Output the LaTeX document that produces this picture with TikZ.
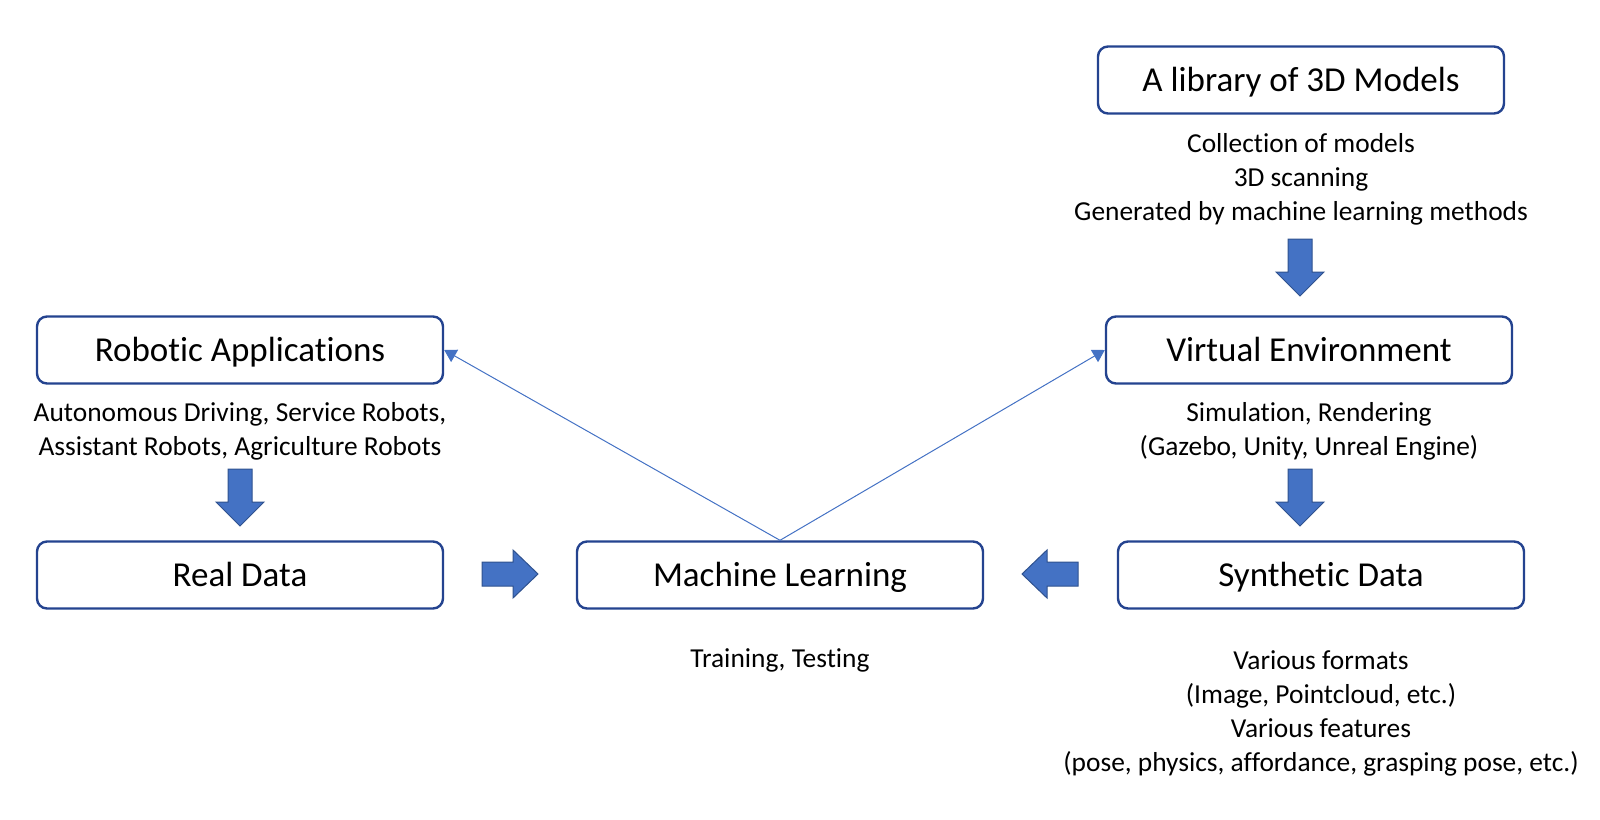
\documentclass[tikz,border=0pt]{standalone}
\usepackage{fontspec}
\setmainfont{Carlito}[Ligatures=NoCommon]
\usetikzlibrary{arrows.meta}
\definecolor{boxblue}{HTML}{24438F}
\definecolor{arrfill}{HTML}{4472C4}
\definecolor{arrline}{HTML}{2F528F}
\tikzset{
  box/.style={draw=boxblue, line width=1.2pt, rounded corners=5pt, fill=white,
    minimum width=203pt, minimum height=33.5pt, inner sep=0pt,
    text height=11.1pt, text depth=0pt,
    font=\fontsize{17.5pt}{21pt}\selectfont},
  note/.style={align=center, inner sep=0pt, font=\fontsize{13.7pt}{17pt}\selectfont},
  blk/.style={fill=arrfill, draw=arrline, line width=0.5pt, line join=miter},
  link/.style={draw=arrfill, line width=0.5pt, -{Triangle[length=6pt,width=7pt]}},
  arrowR/.pic={\path[blk] (-28,-12) -- (3,-12) -- (3,-24) -- (28,0) -- (3,24) -- (3,12) -- (-28,12) -- cycle;},
  arrowL/.pic={\path[blk] (28,-12) -- (-3,-12) -- (-3,-24) -- (-28,0) -- (-3,24) -- (-3,12) -- (28,12) -- cycle;},
  arrowD/.pic={\path[blk] (-12,-28) -- (12,-28) -- (12,5) -- (24,5) -- (0,29) -- (-24,5) -- (-12,5) -- cycle;}
}
\begin{document}
\begin{tikzpicture}[x=0.5pt,y=-0.5pt]
\useasboundingbox (0,0) rectangle (1600,819);
\node[box] (lib) at (1301,80) {A library of 3D Models};
\node[box] (rob) at (240,350) {Robotic Applications};
\node[box] (virt) at (1309,350) {Virtual Environment};
\node[box] (real) at (240,575) {Real Data};
\node[box] (ml) at (780,575) {Machine Learning};
\node[box] (syn) at (1321,575) {Synthetic Data};

\node[note] (libt) at (1301,179) {Collection of models\\3D scanning\\Generated by machine learning methods};
\node[note] (robt) at (240,431) {Autonomous Driving, Service Robots,\\Assistant Robots, Agriculture Robots};
\node[note] (virtt) at (1309,431) {Simulation, Rendering\\(Gazebo, Unity, Unreal Engine)};
\node[note] (mlt) at (780,660) {Training, Testing};
\node[note] (synt) at (1321,713) {Various formats\\(Image, Pointcloud, etc.)\\Various features\\(pose, physics, affordance, grasping pose, etc.)};

\pic at (1300,267) {arrowD};
\pic at (240,497) {arrowD};
\pic at (1300,497) {arrowD};
\pic at (510,574) {arrowR};
\pic at (1050,574) {arrowL};

\draw[link] (ml.north) -- (rob.east);
\draw[link] (ml.north) -- (virt.west);
\end{tikzpicture}
\end{document}
